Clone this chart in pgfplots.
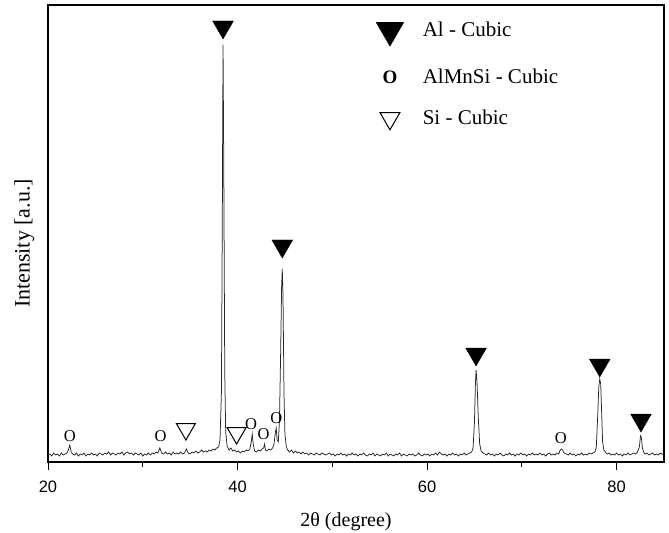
\documentclass[border=0pt]{standalone}
\usepackage{fontspec}
\setmainfont{Liberation Serif}
\newfontfamily\ticksans{Liberation Sans}
\usepackage{pgfplots}
\pgfplotsset{compat=1.18}
\pgfplotsset{mylegend/.style={legend image code/.code={\draw[##1] plot coordinates {(0pt,0pt)};}}}
\begin{document}
\begin{tikzpicture}
\begin{axis}[
 scale only axis, width=616pt, height=457pt,
 xmin=20, xmax=85, ymin=0, ymax=457,
 axis line style={line width=1.2pt},
 xtick={20,40,60,80}, minor xtick={30,50,70},
 ytick=\empty,
 xtick pos=bottom, tick align=outside,
 major tick length=8pt, minor tick length=5pt,
 tick style={black, line width=1pt},
 /pgf/number format/assume math mode=true,
 xticklabel style={font=\ticksans\fontsize{16.5}{19}\selectfont, yshift=-7pt},
 xlabel={2θ (degree)}, ylabel={Intensity [a.u.]},
 xlabel style={font=\fontsize{20}{24}\selectfont, xshift=-10pt, yshift=-13pt},
 ylabel style={font=\fontsize{22}{26}\selectfont, yshift=2pt, xshift=-10pt},
 legend style={draw=none, fill=none, at={(axis cs:54.6,442)}, anchor=north west,
   inner sep=0pt, row sep=21pt, font=\fontsize{21}{25}\selectfont,
   /tikz/every odd column/.append style={column sep=17pt}},
 legend cell align=left,
]
\addplot[black!85, line width=0.75pt, forget plot] coordinates {
(20.0,7)(20.2,8)(20.4,6)(20.6,9)(20.8,7)(21.0,8)(21.2,6)(21.4,9)(21.6,7)(21.8,8)
(22.0,9)(22.15,12)(22.3,17)(22.45,10)(22.6,8)(22.8,7)(23.0,9)(23.2,6)(23.4,8)(23.6,7)
(23.8,9)(24.0,6)(24.2,8)(24.4,7)(24.6,9)(24.8,7)(25.0,8)(25.2,6)(25.4,9)(25.6,8)
(25.8,7)(26.0,9)(26.2,8)(26.4,10)(26.6,7)(26.8,9)(27.0,8)(27.2,7)(27.4,9)(27.6,8)
(27.8,10)(28.0,7)(28.2,9)(28.4,10)(28.6,8)(28.8,9)(29.0,7)(29.2,9)(29.4,8)(29.6,7)
(29.8,9)(30.0,6)(30.2,8)(30.4,7)(30.6,9)(30.8,7)(31.0,9)(31.2,8)(31.4,10)(31.6,9)
(31.8,14)(32.0,9)(32.2,8)(32.4,10)(32.6,8)(32.8,9)(33.0,7)(33.2,10)(33.4,8)(33.6,9)
(33.8,8)(34.0,10)(34.2,8)(34.4,9)(34.6,13)(34.8,9)(35.0,8)(35.2,10)(35.4,9)(35.6,11)
(35.8,9)(36.0,10)(36.2,12)(36.4,10)(36.6,11)(36.8,10)(37.0,12)(37.2,11)(37.4,13)(37.6,12)
(37.8,14)(38.0,15)(38.15,22)(38.3,70)(38.4,260)(38.47,417)(38.55,290)(38.65,90)(38.75,30)(38.9,16)
(39.1,12)(39.3,14)(39.5,11)(39.7,12)(39.9,10)(40.1,11)(40.3,9)(40.5,11)(40.7,10)(40.9,12)
(41.1,11)(41.3,13)(41.45,20)(41.55,28)(41.65,18)(41.8,11)(42.0,10)(42.2,12)(42.4,11)(42.6,13)
(42.75,14)(42.85,18)(42.95,12)(43.1,11)(43.3,13)(43.5,12)(43.7,14)(43.85,18)(44.0,30)(44.08,34)
(44.18,22)(44.3,20)(44.42,40)(44.55,110)(44.65,175)(44.72,193)(44.8,165)(44.9,70)(45.0,28)(45.15,15)
(45.3,12)(45.5,10)(45.7,12)(45.9,9)(46.1,11)(46.3,9)(46.5,10)(46.7,8)(46.9,10)(47.1,8)
(47.3,9)(47.5,7)(47.7,9)(47.9,8)(48.1,7)(48.3,9)(48.5,8)(48.7,7)(48.9,9)(49.1,8)
(49.3,7)(49.5,8)(49.7,9)(49.9,7)(50.1,8)(50.3,6)(50.5,8)(50.7,7)(50.9,9)(51.1,7)
(51.3,8)(51.5,6)(51.7,8)(51.9,7)(52.1,9)(52.3,7)(52.5,8)(52.7,6)(52.9,8)(53.1,7)
(53.3,9)(53.5,7)(53.7,6)(53.9,8)(54.1,7)(54.3,9)(54.5,6)(54.7,8)(54.9,7)(55.1,6)
(55.3,8)(55.5,7)(55.7,9)(55.9,6)(56.1,8)(56.3,7)(56.5,6)(56.7,8)(56.9,7)(57.1,9)
(57.3,6)(57.5,8)(57.7,7)(57.9,6)(58.1,8)(58.3,7)(58.5,8)(58.7,6)(58.9,7)(59.1,9)
(59.3,7)(59.5,6)(59.7,8)(59.9,7)(60.1,8)(60.3,6)(60.5,8)(60.7,7)(60.9,9)(61.1,7)
(61.3,10)(61.5,8)(61.7,7)(61.9,8)(62.1,6)(62.3,8)(62.5,7)(62.7,9)(62.9,7)(63.1,8)
(63.3,6)(63.5,8)(63.7,7)(63.9,9)(64.1,7)(64.3,8)(64.5,9)(64.7,10)(64.85,14)(65.0,40)
(65.1,78)(65.17,92)(65.27,80)(65.4,45)(65.55,18)(65.7,11)(65.9,9)(66.1,8)(66.3,7)(66.5,9)
(66.7,7)(66.9,8)(67.1,6)(67.3,8)(67.5,7)(67.7,9)(67.9,7)(68.1,6)(68.3,8)(68.5,7)
(68.7,9)(68.9,7)(69.1,8)(69.3,6)(69.5,8)(69.7,7)(69.9,9)(70.1,7)(70.3,8)(70.5,6)
(70.7,8)(70.9,7)(71.1,9)(71.3,7)(71.5,8)(71.7,7)(71.9,9)(72.1,7)(72.3,8)(72.5,6)
(72.7,8)(72.9,9)(73.1,7)(73.3,8)(73.5,7)(73.7,9)(73.9,8)(74.0,11)(74.15,13)(74.3,12)
(74.45,9)(74.7,8)(74.9,7)(75.1,9)(75.3,7)(75.5,8)(75.7,6)(75.9,8)(76.1,7)(76.3,9)
(76.5,7)(76.7,8)(76.9,7)(77.1,9)(77.3,8)(77.5,9)(77.7,10)(77.85,14)(78.0,45)(78.12,75)
(78.22,83)(78.32,78)(78.42,50)(78.52,20)(78.65,12)(78.8,10)(79.0,8)(79.2,9)(79.4,7)(79.6,8)
(79.8,7)(80.0,9)(80.2,7)(80.4,8)(80.6,6)(80.8,8)(81.0,7)(81.2,9)(81.4,7)(81.6,8)
(81.8,9)(82.0,8)(82.2,10)(82.4,15)(82.52,26)(82.62,24)(82.72,14)(82.85,10)(83.0,8)(83.2,9)
(83.4,7)(83.6,8)(83.8,9)(84.0,7)(84.2,8)(84.4,7)(84.6,9)(84.8,8)(85.0,7)
};
\addplot[only marks, mark=triangle*, mark size=12pt, mark options={rotate=180, fill=black, draw=black}, forget plot]
 coordinates {(38.47,435)(44.72,216)(65.17,108)(78.22,97)(82.57,42)};
\addplot[only marks, mark=text, text mark={\fontsize{16.5}{16.5}\selectfont O}, forget plot]
 coordinates {(22.3,26)(31.87,26)(41.42,38)(42.74,27.5)(44.1,44)(74.1,24)};
\addplot[only marks, mark=triangle, mark size=11pt, mark options={rotate=180, draw=black, line width=1pt}, forget plot]
 coordinates {(34.55,33)(39.9,29)};
\addlegendimage{only marks, mark=triangle*, mark size=16pt, mark options={rotate=180, fill=black, draw=black}, mylegend}
\addlegendentry{Al - Cubic}
\addlegendimage{only marks, mark=text, text mark={\fontsize{19}{19}\selectfont\bfseries O}, mylegend}
\addlegendentry{AlMnSi - Cubic}
\addlegendimage{only marks, mark=triangle, mark size=11.5pt, mark options={rotate=180, draw=black, line width=1pt}, mylegend}
\addlegendentry{Si - Cubic}
\end{axis}
\pgfresetboundingbox
\path[use as bounding box] ([shift={(-48pt,-70pt)}]current axis.south west) rectangle ([shift={(5pt,5pt)}]current axis.north east);
\end{tikzpicture}
\end{document}
